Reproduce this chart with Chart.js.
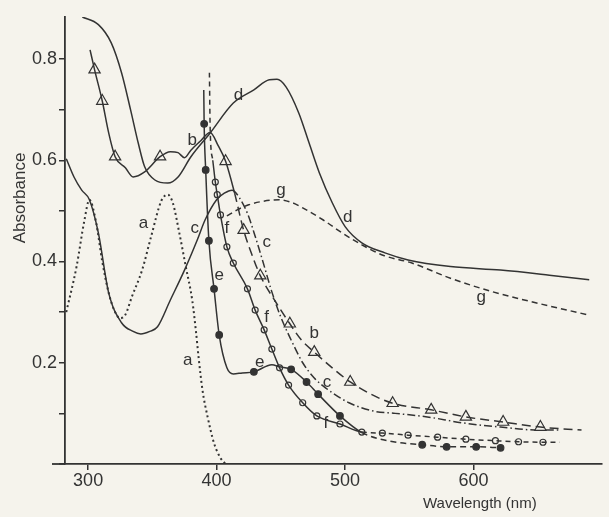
<!DOCTYPE html>
<html>
<head>
<meta charset="utf-8">
<script src="https://cdn.jsdelivr.net/npm/chart.js@4.4.1/dist/chart.umd.min.js"></script>
<style>
  html, body { margin: 0; padding: 0; background: #f5f3ec; }
  #wrap { width: 609px; height: 517px; }
</style>
</head>
<body>
<div id="wrap"><canvas id="chart" width="609" height="517"></canvas></div>
<script>
// spectra: wavelength (nm) / absorbance
const aWave = [283, 291, 297, 301, 306, 311, 316, 321, 325, 329, 334, 342, 349, 357, 362, 366, 371, 376, 381, 384, 386, 389, 393, 398, 403, 407];
const aAbs  = [0.30, 0.39, 0.48, 0.522, 0.48, 0.40, 0.338, 0.30, 0.288, 0.295, 0.33, 0.383, 0.449, 0.52, 0.532, 0.515, 0.456, 0.39, 0.324, 0.26, 0.21, 0.146, 0.093, 0.041, 0.012, 0.0];

const bWave = [301.5, 305, 311, 316, 321, 329, 335, 344, 356, 364, 370, 375, 380, 387, 395, 401, 407, 414, 421, 428, 434, 446, 457, 466, 476, 490, 504, 520, 537, 567, 594, 623, 652, 684];
const bAbs  = [0.818, 0.779, 0.717, 0.654, 0.607, 0.585, 0.567, 0.577, 0.607, 0.617, 0.615, 0.605, 0.62, 0.637, 0.655, 0.63, 0.598, 0.535, 0.462, 0.41, 0.372, 0.32, 0.277, 0.245, 0.221, 0.19, 0.162, 0.138, 0.12, 0.107, 0.093, 0.083, 0.073, 0.067];
const bMarkWave = [305, 311, 321, 356, 407, 421, 434, 457, 476, 504, 537, 567, 594, 623, 652];
const bMarkAbs  = [0.779, 0.717, 0.607, 0.607, 0.598, 0.462, 0.372, 0.277, 0.221, 0.162, 0.12, 0.107, 0.093, 0.083, 0.073];

const cWave = [283, 289, 295, 301, 308, 316, 326, 335, 341, 348, 354, 364, 375, 385, 391, 400, 406, 412, 418, 424, 430, 436, 443, 450, 458, 467, 476, 485, 503, 523, 539, 564, 592, 621, 651, 667];
const cAbs  = [0.603, 0.567, 0.541, 0.522, 0.456, 0.338, 0.279, 0.262, 0.257, 0.262, 0.271, 0.324, 0.383, 0.443, 0.482, 0.522, 0.535, 0.541, 0.525, 0.495, 0.45, 0.40, 0.34, 0.29, 0.245, 0.20, 0.17, 0.15, 0.121, 0.104, 0.10, 0.093, 0.081, 0.073, 0.067, 0.067];

const dWave = [295.5, 308, 318, 326, 333, 339, 344, 352, 362, 370, 380, 395, 413, 429, 441, 447, 454, 464, 472, 480, 490, 500, 513, 531, 549, 582, 621, 659, 690];
const dAbs  = [0.883, 0.868, 0.832, 0.773, 0.70, 0.634, 0.587, 0.561, 0.555, 0.567, 0.607, 0.654, 0.713, 0.739, 0.759, 0.76, 0.745, 0.693, 0.634, 0.575, 0.516, 0.469, 0.437, 0.417, 0.403, 0.39, 0.383, 0.373, 0.364];

const eWave = [390, 390.3, 391.5, 394, 398, 402, 408, 413, 420, 429, 443, 449, 458, 470, 479, 496, 513, 535, 560, 579, 602, 621];
const eAbs  = [0.739, 0.672, 0.581, 0.441, 0.346, 0.255, 0.19, 0.178, 0.18, 0.182, 0.196, 0.192, 0.187, 0.162, 0.138, 0.095, 0.062, 0.045, 0.038, 0.034, 0.034, 0.032];
const eMarkWave = [390.3, 391.5, 394, 398, 402, 429, 458, 470, 479, 496, 560, 579, 602, 621];
const eMarkAbs  = [0.672, 0.581, 0.441, 0.346, 0.255, 0.182, 0.187, 0.162, 0.138, 0.095, 0.038, 0.034, 0.034, 0.032];

const fWave = [394.4, 395, 397, 399, 400.5, 403, 408, 413, 424, 430, 437, 443, 449, 456, 467, 478, 496, 513, 529, 549, 572, 594, 617, 635, 654, 667];
const fAbs  = [0.773, 0.66, 0.60, 0.557, 0.532, 0.492, 0.429, 0.397, 0.346, 0.304, 0.265, 0.227, 0.19, 0.156, 0.121, 0.095, 0.079, 0.063, 0.061, 0.057, 0.053, 0.049, 0.046, 0.044, 0.043, 0.043];
const fMarkWave = [399, 400.5, 403, 408, 413, 424, 430, 437, 443, 449, 456, 467, 478, 496, 513, 529, 549, 572, 594, 617, 635, 654];
const fMarkAbs  = [0.557, 0.532, 0.492, 0.429, 0.397, 0.346, 0.304, 0.265, 0.227, 0.19, 0.156, 0.121, 0.095, 0.079, 0.063, 0.061, 0.057, 0.053, 0.049, 0.046, 0.044, 0.043];

const gWave = [408, 416, 425, 434, 449, 458, 467, 483, 498, 513, 530, 552, 582, 615, 646, 690];
const gAbs  = [0.49, 0.502, 0.512, 0.518, 0.522, 0.517, 0.506, 0.482, 0.456, 0.433, 0.412, 0.397, 0.367, 0.34, 0.32, 0.294];

// curve letters placed in data space
const labelText = ['a', 'a', 'b', 'b', 'c', 'c', 'c', 'd', 'd', 'e', 'e', 'f', 'f', 'f', 'g', 'g'];
const labelWave = [343, 377.5, 381, 476, 383, 439, 486, 417, 502, 402, 433.5, 408, 439, 485, 450, 606];
const labelAbs  = [0.476, 0.205, 0.64, 0.259, 0.466, 0.437, 0.162, 0.729, 0.488, 0.373, 0.20, 0.466, 0.29, 0.081, 0.541, 0.33];

const xTicks = [300, 400, 500, 600];
const yTickLabels = [0.2, 0.4, 0.6, 0.8];

const INK = '#333';
const PAPER = '#f5f3ec';

const pts = (xs, ys) => xs.map((x, i) => ({ x: x, y: ys[i] }));

const lineSet = (xs, ys, extra) => Object.assign({
  data: pts(xs, ys),
  showLine: true,
  borderColor: INK,
  borderWidth: 1.5,
  pointRadius: 0,
  fill: false,
  cubicInterpolationMode: 'monotone'
}, extra);

const markSet = (xs, ys, extra) => Object.assign({
  data: pts(xs, ys),
  showLine: false,
  borderColor: INK,
  borderWidth: 1.2,
  backgroundColor: PAPER
}, extra);

const dashAfter = (limit, dash) => ({
  borderDash: ctx => ctx.p0.parsed.x >= limit ? dash : undefined
});

const paperAndText = {
  id: 'paperAndText',
  beforeDraw(chart) {
    const ctx = chart.ctx;
    ctx.save();
    ctx.fillStyle = PAPER;
    ctx.fillRect(0, 0, chart.width, chart.height);
    ctx.restore();
  },
  afterDraw(chart) {
    const ctx = chart.ctx;
    const xs = chart.scales.x, ys = chart.scales.y;
    ctx.save();
    // bottom axis runs a little past the y axis
    ctx.strokeStyle = INK;
    ctx.lineWidth = 1.8;
    ctx.beginPath();
    ctx.moveTo(52, ys.bottom);
    ctx.lineTo(xs.left, ys.bottom);
    ctx.stroke();

    ctx.fillStyle = INK;
    ctx.font = '15px "Liberation Sans", Arial, sans-serif';
    ctx.textAlign = 'left';
    ctx.textBaseline = 'alphabetic';
    ctx.fillText('Wavelength (nm)', 423, 508);

    ctx.save();
    ctx.translate(25, 198);
    ctx.rotate(-Math.PI / 2);
    ctx.font = '17px "Liberation Sans", Arial, sans-serif';
    ctx.textAlign = 'center';
    ctx.fillText('Absorbance', 0, 0);
    ctx.restore();

    ctx.font = '17px "Liberation Sans", Arial, sans-serif';
    ctx.textAlign = 'center';
    ctx.textBaseline = 'middle';
    labelText.forEach((t, i) => {
      ctx.fillText(t, xs.getPixelForValue(labelWave[i]), ys.getPixelForValue(labelAbs[i]));
    });
    ctx.restore();
  }
};

new Chart(document.getElementById('chart'), {
  type: 'scatter',
  data: {
    datasets: [
      lineSet(aWave, aAbs, { borderDash: [2, 3], borderWidth: 2 }),
      lineSet(bWave, bAbs, { segment: dashAfter(414, [9, 5]) }),
      markSet(bMarkWave, bMarkAbs, { pointStyle: 'triangle', pointRadius: 6.5 }),
      lineSet(cWave, cAbs, { segment: dashAfter(412, [8, 3, 1.5, 3]) }),
      lineSet(dWave, dAbs, {}),
      lineSet(eWave, eAbs, { segment: dashAfter(513, [6, 4]) }),
      markSet(eMarkWave, eMarkAbs, { pointStyle: 'circle', pointRadius: 3.3, backgroundColor: INK }),
      lineSet(fWave, fAbs, {
        segment: { borderDash: ctx => (ctx.p0.parsed.x < 397 || ctx.p0.parsed.x >= 513) ? [5, 4] : undefined }
      }),
      markSet(fMarkWave, fMarkAbs, { pointStyle: 'circle', pointRadius: 3 }),
      lineSet(gWave, gAbs, { borderDash: [6, 4] })
    ]
  },
  options: {
    responsive: false,
    animation: false,
    layout: { padding: { top: 17, right: 0, left: 0, bottom: 0 } },
    plugins: { legend: { display: false }, tooltip: { enabled: false } },
    scales: {
      x: {
        type: 'linear',
        min: 282,
        max: 699.4,
        afterFit: s => { s.height = 53; },
        border: { color: INK, width: 1.8 },
        grid: { drawOnChartArea: false, drawTicks: true, tickLength: 6, color: INK, lineWidth: 1.5 },
        ticks: {
          stepSize: 100,
          includeBounds: false,
          padding: 0,
          color: INK,
          font: { family: '"Liberation Sans", Arial, sans-serif', size: 18 },
          callback: v => xTicks.includes(v) ? String(v) : ''
        }
      },
      y: {
        min: 0,
        max: 0.883,
        afterFit: s => { s.width = 65; },
        border: { color: INK, width: 1.8 },
        grid: { drawOnChartArea: false, drawTicks: true, tickLength: 6, color: INK, lineWidth: 1.5 },
        ticks: {
          stepSize: 0.1,
          includeBounds: false,
          padding: 2,
          color: INK,
          font: { family: '"Liberation Sans", Arial, sans-serif', size: 18 },
          callback: v => yTickLabels.some(t => Math.abs(t - v) < 1e-6) ? v.toFixed(1) : ''
        }
      }
    }
  },
  plugins: [paperAndText]
});
</script>
</body>
</html>
